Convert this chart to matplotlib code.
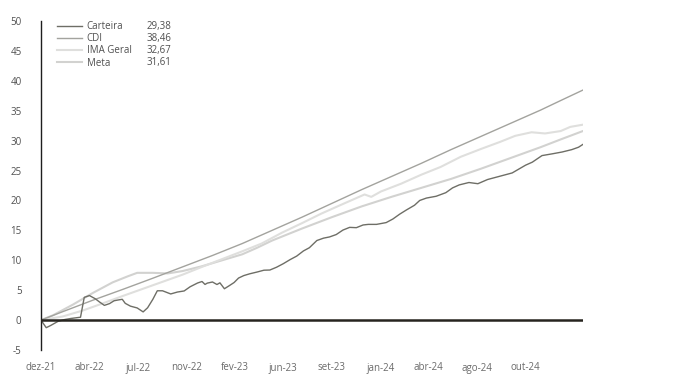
import matplotlib
matplotlib.use("Agg")
import matplotlib.pyplot as plt

plt.rcParams["font.family"] = ["Open Sans", "DejaVu Sans"]
plt.rcParams["axes.unicode_minus"] = False

# Rentabilidade acumulada (%) por dia útil desde dez-21
dias_carteira = [0, 3, 7, 13, 23, 32, 40, 53, 58, 65, 73, 78, 85, 92, 98, 103, 109, 113,
                 120, 129, 137, 143, 150, 156, 163, 174, 183, 192, 200, 210, 216, 220, 223,
                 230, 236, 240, 246, 252, 259, 265, 272, 280, 290, 299, 307, 316, 325, 334,
                 343, 352, 360, 370, 379, 387, 396, 405, 414, 423, 432, 439, 450, 463, 472,
                 481, 490, 501, 508, 517, 530, 543, 552, 561, 574, 586, 599, 614, 632, 650,
                 659, 672, 686, 699, 712, 721, 727]
carteira = [0.0, -0.55, -1.27, -0.9, -0.2, 0.1, 0.27, 0.48, 3.8, 4.1, 3.55, 3.07, 2.46, 2.76,
            3.23, 3.35, 3.48, 2.8, 2.33, 2.03, 1.37, 2.06, 3.47, 4.9, 4.9, 4.37, 4.69, 4.87,
            5.57, 6.2, 6.45, 5.96, 6.18, 6.37, 5.95, 6.23, 5.24, 5.71, 6.28, 7.03, 7.44, 7.74,
            8.04, 8.34, 8.37, 8.84, 9.43, 10.1, 10.7, 11.56, 12.1, 13.3, 13.7, 13.9, 14.3,
            15.05, 15.5, 15.45, 15.9, 16.0, 16.0, 16.3, 16.9, 17.7, 18.4, 19.2, 20.0, 20.4,
            20.7, 21.3, 22.1, 22.6, 23.0, 22.8, 23.5, 24.0, 24.6, 25.9, 26.4, 27.5, 27.8,
            28.1, 28.5, 28.9, 29.38]

dias_cdi = [0, 29, 69, 109, 150, 190, 230, 270, 310, 350, 390, 430, 470, 510, 550, 590,
            630, 670, 697, 727]
cdi = [0.0, 1.4, 3.3, 5.1, 7.0, 8.9, 10.8, 12.8, 15.0, 17.2, 19.5, 21.8, 24.0, 26.2, 28.5,
       30.7, 32.9, 35.1, 36.7, 38.46]

dias_ima = [0, 29, 56, 83, 109, 136, 163, 190, 216, 243, 270, 296, 323, 350, 376, 403, 434,
            443, 456, 483, 510, 536, 563, 590, 616, 636, 658, 676, 697, 710, 727]
ima_geral = [0.0, 0.6, 1.6, 2.8, 4.0, 5.2, 6.4, 7.6, 8.9, 10.2, 11.5, 12.8, 14.6, 16.2, 17.8,
             19.3, 21.0, 20.6, 21.5, 22.8, 24.3, 25.6, 27.3, 28.6, 29.8, 30.8, 31.4, 31.2,
             31.6, 32.3, 32.67]

dias_meta = [0, 16, 43, 69, 96, 116, 129, 150, 170, 190, 216, 243, 270, 290, 310, 350, 390,
             430, 470, 510, 550, 590, 630, 670, 697, 727]
meta = [0.0, 0.8, 2.6, 4.5, 6.3, 7.3, 7.9, 7.9, 7.8, 8.2, 9.0, 10.0, 11.0, 12.1, 13.3, 15.3,
        17.2, 19.0, 20.6, 22.1, 23.6, 25.3, 27.1, 28.9, 30.2, 31.61]

nomes = ["Carteira", "CDI", "IMA Geral", "Meta"]
valores_legenda = ["29,38", "38,46", "32,67", "31,61"]

rotulos_x = ["dez-21", "abr-22", "jul-22", "nov-22", "fev-23", "jun-23", "set-23",
             "jan-24", "abr-24", "ago-24", "out-24"]
passo_rotulo = 65

W, H = 687, 378
fig = plt.figure(figsize=(W / 100, H / 100), dpi=100)
ax = fig.add_axes([41 / W, 28 / H, 542 / W, 329 / H])

# linhas claras por baixo, carteira por cima
l_meta, = ax.plot(dias_meta, meta, color="#d2d2d0", lw=1.5)
l_ima, = ax.plot(dias_ima, ima_geral, color="#dfdfdd", lw=1.5)
l_cdi, = ax.plot(dias_cdi, cdi, color="#a3a39e", lw=1.0)
l_cart, = ax.plot(dias_carteira, carteira, color="#6e6e66", lw=1.0)

ax.axhline(0, color="#26241f", lw=1.8, zorder=5)

ax.set_xlim(0, dias_carteira[-1])
ax.set_ylim(-5, 50)
ax.set_yticks(range(-5, 51, 5))
ax.set_xticks([i * passo_rotulo for i in range(len(rotulos_x))])
ax.set_xticklabels(rotulos_x)

for s in ["top", "right", "bottom"]:
    ax.spines[s].set_visible(False)
ax.spines["left"].set_color("#1e1e1e")
ax.spines["left"].set_linewidth(1.0)

ax.tick_params(axis="y", length=0, pad=14, labelsize=7, labelcolor="#505050")
ax.tick_params(axis="x", length=0, pad=9, labelsize=7, labelcolor="#6a6a6a")

# legenda com nomes e, ao lado, os valores finais
handles = [l_cart, l_cdi, l_ima, l_meta]
kw = dict(loc="upper left", frameon=False, fontsize=7, borderpad=0, borderaxespad=0,
          labelspacing=0.12, bbox_transform=fig.transFigure)
leg1 = ax.legend(handles, nomes, bbox_to_anchor=(57 / W, 1 - 21 / H),
                 handlelength=2.6, handletextpad=0.45, labelcolor="#505050", **kw)
ax.add_artist(leg1)
vazios = [plt.Line2D([], [], alpha=0) for _ in nomes]
ax.legend(vazios, valores_legenda, bbox_to_anchor=(147 / W, 1 - 21 / H),
          handlelength=0, handletextpad=0, labelcolor="#505050", **kw)

fig.savefig("out.png", dpi=100, facecolor="white")
